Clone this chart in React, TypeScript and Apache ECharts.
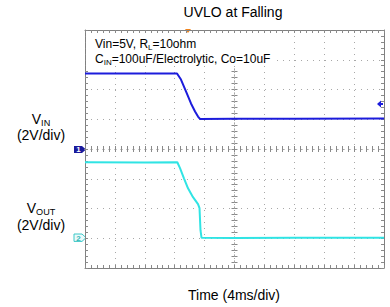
import React, { useEffect, useRef } from "react";
import * as echarts from "echarts";

// Time in ms relative to screen centre (4 ms/div, 10 divisions)
const vinTime = [-20, -12, -7.69, -7.16, -6.49, -5.82, -5.28, -4.88, -4.62, 0, 8, 20];
const vinVolts = [5.08, 5.07, 5.08, 4.67, 3.87, 3.06, 2.52, 2.18, 2.02, 2.04, 2.03, 2.05];

const voutTime = [-20, -12, -7.65, -7.29, -6.76, -6.22, -5.55, -4.88, -4.68, -4.55, -4.41, 0, 8, 20];
const voutVolts = [5.11, 5.1, 5.11, 4.71, 4.03, 3.36, 2.76, 2.29, 2.02, 0.54, 0.03, 0.02, 0.03, 0.03];

const titleText = "UVLO at Falling";
const xAxisText = "Time (4ms/div)";

const FONT = "Liberation Sans, Arial, sans-serif";
const BORDER = "#808080";
const GRID = "#a8a8a8";
const TICK = "#8a8a8a";
const BLUE = "#1c1cdc";
const CYAN = "#30e4e4";

export default function App() {
  const ref = useRef<HTMLDivElement>(null);
  useEffect(() => {
    if (!ref.current) return;
    const chart = echarts.init(ref.current, null, { renderer: "svg" });
    const tickStyle = { color: TICK, width: 1 };
    const xBase = {
      type: "value" as const,
      min: -20,
      max: 20,
      interval: 4,
      axisLabel: { show: false },
      splitLine: { show: false },
    };
    const ch1Base = { type: "value" as const, min: -8, max: 8, interval: 2, axisLabel: { show: false }, splitLine: { show: false } };
    const ch2Base = { type: "value" as const, min: -2, max: 14, interval: 2, axisLabel: { show: false }, splitLine: { show: false } };
    const minor = { show: true, splitNumber: 5, length: 3, lineStyle: tickStyle };
    const borderLine = { show: true, onZero: false, lineStyle: { color: BORDER, width: 1 } };
    const centreLine = { show: true, onZero: true, onZeroAxisIndex: 0, lineStyle: { color: GRID, width: 1, type: [1, 5] } };

    const sub = (main: string, s: string, size: number) =>
      ({
        text: `{a|${main}}{s|${s}}`,
        rich: {
          a: { fontSize: size, fontFamily: FONT, fill: "#000", lineHeight: size + 3 },
          s: { fontSize: size * 0.65, fontFamily: FONT, fill: "#000", lineHeight: size * 0.65, padding: [size * 0.55, 0, 0, 0] },
        },
      });

    chart.setOption({
      animation: false,
      backgroundColor: "#ffffff",
      grid: { left: 85, right: 6, top: 30, bottom: 39, show: false },
      xAxis: [
        {
          ...xBase,
          position: "bottom",
          axisLine: borderLine,
          axisTick: { show: true, inside: true, length: 3, lineStyle: tickStyle },
          minorTick: minor,
          splitLine: { show: true, lineStyle: { color: GRID, width: 1, type: [1, 5] } },
        },
        { ...xBase, position: "top", axisLine: borderLine, axisTick: { show: true, inside: true, length: 3, lineStyle: tickStyle }, minorTick: minor },
        { ...xBase, position: "bottom", axisLine: centreLine, axisTick: { show: true, inside: true, length: 3, lineStyle: tickStyle }, minorTick: minor },
        { ...xBase, position: "bottom", axisLine: centreLine, axisTick: { show: true, inside: false, length: 3, lineStyle: tickStyle }, minorTick: minor },
      ],
      yAxis: [
        {
          ...ch1Base,
          position: "left",
          axisLine: borderLine,
          axisTick: { show: true, inside: true, length: 3, lineStyle: tickStyle },
          minorTick: minor,
          splitLine: { show: true, lineStyle: { color: GRID, width: 1, type: [1, 5] } },
        },
        { ...ch2Base, position: "right", axisLine: borderLine, axisTick: { show: true, inside: true, length: 3, lineStyle: tickStyle }, minorTick: minor },
        { ...ch1Base, position: "left", axisLine: centreLine, axisTick: { show: true, inside: true, length: 3, lineStyle: tickStyle }, minorTick: minor },
        { ...ch1Base, position: "left", axisLine: centreLine, axisTick: { show: true, inside: false, length: 3, lineStyle: tickStyle }, minorTick: minor },
      ],
      series: [
        {
          type: "line",
          name: "VIN",
          xAxisIndex: 0,
          yAxisIndex: 0,
          showSymbol: false,
          data: vinTime.map((t, i) => [t, vinVolts[i]]),
          lineStyle: { color: BLUE, width: 2 },
          itemStyle: { color: BLUE },
          z: 5,
        },
        {
          type: "line",
          name: "VOUT",
          xAxisIndex: 0,
          yAxisIndex: 1,
          showSymbol: false,
          data: voutTime.map((t, i) => [t, voutVolts[i]]),
          lineStyle: { color: CYAN, width: 2 },
          itemStyle: { color: CYAN },
          z: 5,
        },
      ],
      graphic: [
        { type: "text", x: 233, y: 12, style: { text: titleText, fontSize: 14, fontFamily: FONT, fill: "#000", align: "center", verticalAlign: "middle" } },
        { type: "text", x: 234, y: 295, style: { text: xAxisText, fontSize: 14, fontFamily: FONT, fill: "#000", align: "center", verticalAlign: "middle" } },
        // white box behind the annotation text
        { type: "rect", z: 8, shape: { x: 86, y: 33, width: 186, height: 33 }, style: { fill: "#ffffff" } },
        {
          type: "text",
          x: 95,
          y: 36,
          z: 10,
          style: {
            text: "{a|Vin=5V, R}{s|L}{a|=10ohm}",
            rich: {
              a: { fontSize: 12, fontFamily: FONT, fill: "#000", lineHeight: 15 },
              s: { fontSize: 8, fontFamily: FONT, fill: "#000", lineHeight: 8, padding: [7, 0, 0, 0] },
            },
          },
        },
        {
          type: "text",
          x: 95,
          y: 51,
          z: 10,
          style: {
            text: "{a|C}{s|IN}{a|=100uF/Electrolytic, Co=10uF}",
            rich: {
              a: { fontSize: 12, fontFamily: FONT, fill: "#000", lineHeight: 15 },
              s: { fontSize: 8, fontFamily: FONT, fill: "#000", lineHeight: 8, padding: [7, 0, 0, 0] },
            },
          },
        },
        { type: "text", x: 41, y: 119, style: { ...sub("V", "IN", 14), align: "center", verticalAlign: "middle" } },
        { type: "text", x: 41, y: 135, style: { text: "(2V/div)", fontSize: 14, fontFamily: FONT, fill: "#000", align: "center", verticalAlign: "middle" } },
        { type: "text", x: 41, y: 208, style: { ...sub("V", "OUT", 14), align: "center", verticalAlign: "middle" } },
        { type: "text", x: 41, y: 225, style: { text: "(2V/div)", fontSize: 14, fontFamily: FONT, fill: "#000", align: "center", verticalAlign: "middle" } },
        // channel 1 ground marker
        { type: "polygon", shape: { points: [[74, 146], [82, 146], [86, 149.5], [82, 153], [74, 153]] }, style: { fill: "#1a1a9c" } },
        { type: "text", x: 78.5, y: 149.8, style: { text: "1", fontSize: 8, fontWeight: "bold", fontFamily: FONT, fill: "#fff", align: "center", verticalAlign: "middle" } },
        // channel 2 ground marker
        { type: "polygon", shape: { points: [[74, 234], [82, 234], [86, 237.7], [82, 241.4], [74, 241.4]] }, style: { fill: "#eafafa", stroke: "#3cc8c8", lineWidth: 1 } },
        { type: "text", x: 78.5, y: 238, style: { text: "2", fontSize: 8, fontWeight: "bold", fontFamily: FONT, fill: "#33b8b8", align: "center", verticalAlign: "middle" } },
        // trigger level arrow
        { type: "polygon", shape: { points: [[377, 104], [381, 100.5], [381, 107.5]] }, style: { fill: BLUE } },
        { type: "line", shape: { x1: 380, y1: 104, x2: 383, y2: 104 }, style: { stroke: BLUE, lineWidth: 2 } },
        // trigger position marker
        { type: "polygon", shape: { points: [[185, 29], [191, 29], [188, 33]] }, style: { fill: "#f0841e" } },
      ],
    });
    return () => chart.dispose();
  }, []);
  return <div ref={ref} style={{ position: "fixed", left: 0, top: 0, width: 390, height: 307, background: "#fff" }} />;
}
